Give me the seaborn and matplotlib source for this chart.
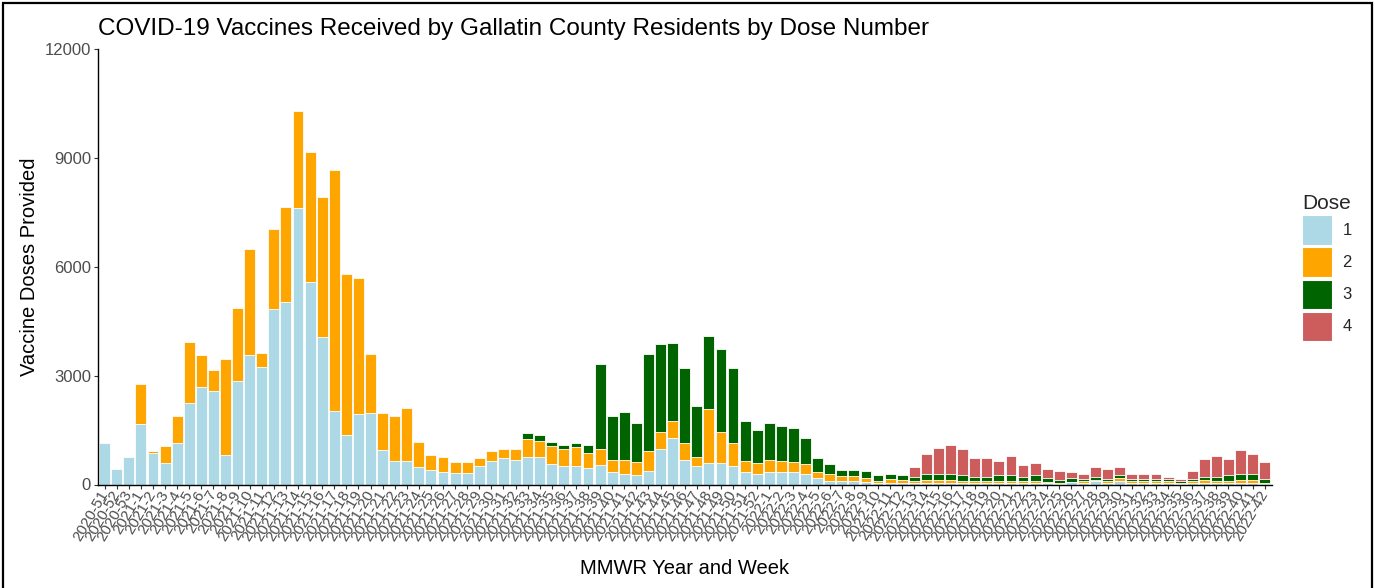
import pandas as pd
import matplotlib
matplotlib.use('Agg')
import matplotlib.pyplot as plt
import seaborn as sns
from matplotlib.patches import Patch, Rectangle

# MMWR weeks shown on the x axis
weeks = (['2020-51', '2020-52', '2020-53']
         + ['2021-%d' % i for i in range(1, 53)]
         + ['2022-%d' % i for i in range(1, 43)])

# doses per week
dose1 = [1150, 420, 770, 1670, 870, 580, 1140, 2240, 2690, 2580,
         800, 2850, 3570, 3230, 4830, 5040, 7610, 5570, 4060, 2020,
         1370, 1940, 1980, 960, 650, 650, 470, 390, 350, 310,
         310, 500, 650, 720, 680, 760, 760, 570, 500, 500,
         450, 530, 340, 300, 270, 380, 980, 1280, 680, 500,
         600, 600, 500, 340, 300, 340, 340, 340, 300, 190,
         110, 110, 110, 60, 30, 40, 40, 40, 40, 40,
         40, 40, 40, 40, 40, 40, 40, 40, 40, 20,
         60, 30, 110, 40, 110, 30, 30, 30, 30, 20,
         30, 30, 30, 30, 30, 30, 20]
dose2 = [0, 0, 0, 1110, 40, 490, 760, 1700, 880, 570,
         2650, 2000, 2910, 380, 2220, 2620, 2690, 3590, 3860, 6650,
         4420, 3740, 1620, 1020, 1250, 1470, 710, 410, 410, 300,
         300, 220, 260, 260, 300, 490, 450, 500, 490, 530,
         420, 450, 340, 380, 340, 530, 460, 460, 460, 270,
         1480, 840, 640, 300, 300, 340, 300, 270, 270, 150,
         190, 120, 120, 110, 60, 100, 90, 50, 90, 90,
         90, 50, 50, 50, 50, 50, 50, 50, 20, 20,
         10, 60, 20, 50, 60, 60, 60, 60, 60, 30,
         60, 100, 60, 60, 100, 100, 30]
dose3 = [0, 0, 0, 0, 0, 0, 0, 0, 0, 0,
         0, 0, 0, 0, 0, 0, 0, 0, 0, 0,
         0, 0, 0, 0, 0, 0, 0, 0, 0, 0,
         0, 0, 0, 0, 0, 160, 150, 110, 110, 110,
         220, 2340, 1210, 1320, 1090, 2690, 2420, 2160, 2070, 1390,
         2010, 2300, 2070, 1100, 910, 1020, 980, 950, 720, 380,
         270, 180, 180, 190, 160, 150, 130, 110, 160, 160,
         160, 170, 120, 120, 170, 170, 120, 170, 110, 90,
         100, 70, 80, 70, 90, 70, 70, 70, 70, 60,
         70, 80, 120, 170, 170, 170, 110]
dose4 = [0] * 67 + [280, 560, 720,
         790, 710, 520, 520, 400, 520, 340, 340, 270, 240,
         170, 130, 270, 280, 220, 130, 130, 130, 60, 40,
         200, 500, 570, 450, 640, 530, 460]

dose_labels = ['1', '2', '3', '4']
dose_colors = ['lightblue', 'orange', 'darkgreen', 'indianred']

df = pd.DataFrame({'week': weeks, 'd1': dose1, 'd2': dose2, 'd3': dose3, 'd4': dose4})
# cumulative heights so the layers can be drawn on top of each other
df['c1'] = df['d1']
df['c2'] = df['c1'] + df['d2']
df['c3'] = df['c2'] + df['d3']
df['c4'] = df['c3'] + df['d4']

sns.set_style('ticks')
plt.rcParams['font.family'] = ['Liberation Sans', 'DejaVu Sans']

fig = plt.figure(figsize=(13.75, 5.88), dpi=100)
ax = fig.add_axes([98 / 1375, 1 - 484.5 / 588, (1272 - 98) / 1375, (484.5 - 49) / 588])

# draw tallest stack first, then the lower layers over it
for col, c in zip(['c4', 'c3', 'c2', 'c1'], dose_colors[::-1]):
    sns.barplot(data=df, x='week', y=col, order=weeks, color=c, saturation=1,
                width=0.9, edgecolor='white', linewidth=0.6, errorbar=None, ax=ax)

ax.set_ylim(0, 12000)
ax.set_xlim(-0.55, 96.6)
ax.set_yticks([0, 3000, 6000, 9000, 12000])
ax.set_yticklabels(['0', '3000', '6000', '9000', '12000'])
ax.set_xticks(range(len(weeks)))
ax.set_xticklabels(weeks, rotation=60, ha='right', va='center', rotation_mode='anchor')

sns.despine(ax=ax)
for s in ['left', 'bottom']:
    ax.spines[s].set_color('black')
    ax.spines[s].set_linewidth(1.0)
ax.tick_params(axis='both', length=3, width=0.8, color='#333333', labelcolor='#4D4D4D', pad=2)
ax.tick_params(axis='y', labelsize=12)
ax.tick_params(axis='x', labelsize=11)

ax.set_title('COVID-19 Vaccines Received by Gallatin County Residents by Dose Number',
             loc='left', fontsize=17.5, pad=10, color='black')
ax.set_ylabel('Vaccine Doses Provided', fontsize=14.5, color='black')
ax.set_xlabel('MMWR Year and Week', fontsize=14.5, color='black')
ax.xaxis.set_label_coords(0.5, -0.17)

handles = [Patch(facecolor=c, edgecolor='white', linewidth=0.8) for c in dose_colors]
fig.legend(handles, dose_labels, title='Dose', loc='center left',
           bbox_to_anchor=(1294 / 1375, 0.545), frameon=False, fontsize=12,
           title_fontsize=15, handlelength=1.8, handleheight=2.35, labelspacing=0.15,
           handletextpad=0.6, alignment='left', borderpad=0)

# frame around the whole picture
fig.patches.append(Rectangle((3 / 1375, -0.01), 1369 / 1375, 1.005, transform=fig.transFigure,
                             fill=False, edgecolor='black', linewidth=1.6))

fig.savefig('out.png', dpi=100)
